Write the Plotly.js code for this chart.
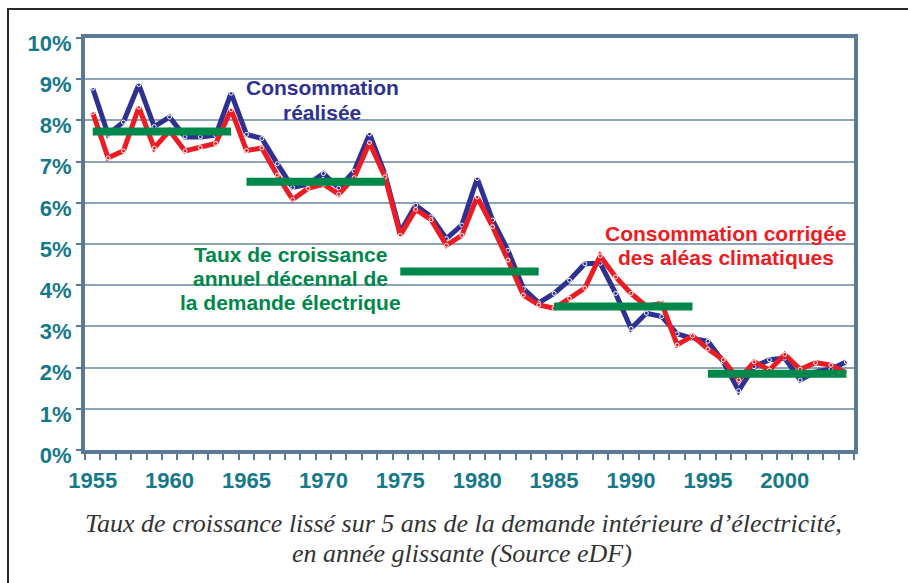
<!DOCTYPE html>
<html>
<head>
<meta charset="utf-8">
<script src="https://cdn.plot.ly/plotly-3.0.1.min.js"></script>
<style>
html,body{margin:0;padding:0;background:#fff;}
#chart{width:908px;height:583px;}
</style>
</head>
<body>
<div id="chart"></div>
<script>
// ---- Data ----
const years = [1955,1956,1957,1958,1959,1960,1961,1962,1963,1964,
               1965,1966,1967,1968,1969,1970,1971,1972,1973,1974,
               1975,1976,1977,1978,1979,1980,1981,1982,1983,1984,
               1985,1986,1987,1988,1989,1990,1991,1992,1993,1994,
               1995,1996,1997,1998,1999,2000,2001,2002,2003,2004];

// Consommation réalisée (%)
const realisee = [8.78,7.66,7.96,8.87,7.85,8.08,7.60,7.60,7.64,8.66,
                  7.66,7.56,6.95,6.37,6.45,6.71,6.36,6.77,7.67,6.70,
                  5.29,5.94,5.66,5.13,5.46,6.59,5.58,4.85,3.92,3.57,
                  3.80,4.12,4.52,4.53,3.80,2.95,3.32,3.24,2.82,2.71,
                  2.64,2.14,1.44,2.02,2.19,2.23,1.70,1.90,1.96,2.14];

// Consommation corrigée des aléas climatiques (%)
const corrigee = [8.19,7.09,7.26,8.32,7.33,7.75,7.26,7.34,7.44,8.26,
                  7.27,7.33,6.67,6.08,6.35,6.45,6.21,6.61,7.46,6.63,
                  5.21,5.84,5.59,4.97,5.21,6.14,5.42,4.61,3.76,3.52,
                  3.44,3.68,3.93,4.71,4.20,3.80,3.49,3.56,2.55,2.77,
                  2.45,2.19,1.70,2.14,1.94,2.32,1.96,2.12,2.06,1.87];

// Taux de croissance annuel décennal
const decadeStart = [1955,1965,1975,1985,1995];
const decadeEnd   = [1964,1974,1984,1994,2004];
const decadeRate  = [7.73,6.51,4.33,3.48,1.85];

const yTickVals = [0,1,2,3,4,5,6,7,8,9,10];
const xTickVals = [1955,1960,1965,1970,1975,1980,1985,1990,1995,2000];

// ---- Styles ----
const BLUE = '#2e3192', RED = '#ed1c24', GREEN = '#00884a', TEAL = '#16798a';
const AXIS = '#5b7a97', GRID = '#8ea3b8';

const W = 908, H = 583, M = {l:85, r:54, t:38, b:133};
const pw = W - M.l - M.r, ph = H - M.t - M.b;
const px = x => (x - M.l) / pw;
const py = y => (H - M.b - y) / ph;

const traces = [];
traces.push({
  x: years, y: realisee, type: 'scatter', mode: 'lines+markers',
  line: {color: BLUE, width: 5},
  marker: {symbol: 'circle-open', size: 4, color: '#ffffff', line: {width: 1}},
  hoverinfo: 'skip', showlegend: false
});
traces.push({
  x: years, y: corrigee, type: 'scatter', mode: 'lines+markers',
  line: {color: RED, width: 5},
  marker: {symbol: 'circle-open', size: 4, color: '#ffffff', line: {width: 1}},
  hoverinfo: 'skip', showlegend: false
});
for (let i = 0; i < decadeStart.length; i++) {
  traces.push({
    x: [decadeStart[i], decadeEnd[i]], y: [decadeRate[i], decadeRate[i]],
    type: 'scatter', mode: 'lines', line: {color: GREEN, width: 8},
    hoverinfo: 'skip', showlegend: false
  });
}

const bold = (size, color) => ({family: 'Liberation Sans, Arial, sans-serif', size: size, color: color, weight: 700});
const serif = {family: 'Liberation Serif, Times New Roman, serif', size: 26, color: '#333333', style: 'italic'};

const annotations = [
  {text: 'Consommation', x: px(322), y: py(88), font: bold(21, BLUE)},
  {text: 'réalisée', x: px(322), y: py(112), font: bold(21, BLUE)},
  {text: 'Consommation corrigée', x: px(726), y: py(233), font: bold(21, RED)},
  {text: 'des aléas climatiques', x: px(726), y: py(257), font: bold(21, RED)},
  {text: 'Taux de croissance', x: px(290), y: py(254), font: bold(21, GREEN)},
  {text: 'annuel décennal de', x: px(290), y: py(278), font: bold(21, GREEN)},
  {text: 'la demande électrique', x: px(290), y: py(302), font: bold(21, GREEN)},
  {text: 'Taux de croissance lissé sur 5 ans de la demande intérieure d’électricité,', x: px(463), y: py(523), font: serif},
  {text: 'en année glissante (Source eDF)', x: px(462), y: py(553), font: serif}
].map(a => Object.assign({xref: 'paper', yref: 'paper', showarrow: false, xanchor: 'center', yanchor: 'middle', align: 'center'}, a));

const layout = {
  width: W, height: H,
  margin: M,
  paper_bgcolor: '#ffffff', plot_bgcolor: '#ffffff',
  showlegend: false,
  xaxis: {
    range: [1954.5, 2004.5],
    tickmode: 'array', tickvals: xTickVals, ticktext: xTickVals.map(String),
    ticks: 'outside', ticklen: 0, tickcolor: AXIS,
    ticklabelstandoff: 8,
    tickfont: bold(22, TEAL),
    minor: {tick0: 1954.5, dtick: 1, ticks: 'outside', ticklen: 6, tickwidth: 2, tickcolor: AXIS, showgrid: false},
    showgrid: false, zeroline: false,
    showline: true, linecolor: AXIS, linewidth: 4, mirror: true
  },
  yaxis: {
    range: [0, 10],
    tickmode: 'array', tickvals: yTickVals, ticktext: yTickVals.map(v => v + '%'),
    ticks: 'outside', ticklen: 5, tickwidth: 2, tickcolor: AXIS,
    ticklabelshift: 5,
    tickfont: bold(22, TEAL),
    showgrid: true, gridcolor: GRID, gridwidth: 2,
    zeroline: false,
    showline: true, linecolor: AXIS, linewidth: 4, mirror: true
  },
  shapes: [
    {type: 'path', xref: 'paper', yref: 'paper',
     path: `M ${px(8)} ${py(H + 20)} L ${px(8)} ${py(9)} L ${px(W + 20)} ${py(9)}`,
     line: {color: '#2a2a2a', width: 2}}
  ],
  annotations: annotations
};

Plotly.newPlot('chart', traces, layout, {staticPlot: true, displayModeBar: false});
</script>
</body>
</html>
